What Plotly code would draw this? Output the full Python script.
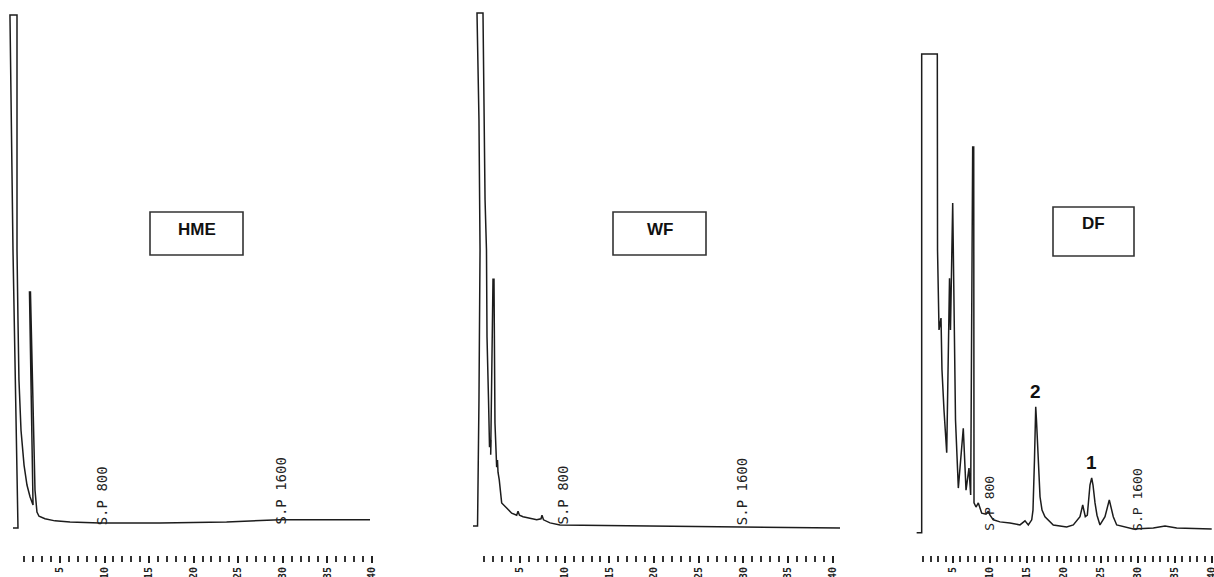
import plotly.graph_objects as go

# ---------------- data (retention time in min, detector response in relative units) -------------
hme_time = [-0.27, 0.29, -0.27, -0.61, 0.18, 0.18, 0.18, 0.29, 0.40, 0.63, 0.97, 1.30, 1.64, 1.98,
            1.58, 1.69, 1.98, 2.20, 2.42, 2.65, 3.32, 4.44, 6.13, 9.49, 16.2, 23.7, 29.7, 39.8]
hme_resp = [-0.2, -0.2, 54.1, 100.0, 100.0, 73.6, 54.1, 40.4, 28.7, 18.9, 12.1, 8.2, 5.9, 4.3,
            45.9, 45.9, 20.9, 7.2, 2.9, 2.1, 1.6, 1.2, 1.0, 0.8, 0.8, 1.0, 1.4, 1.4]

wf_time = [-0.26, 0.25, 0.41, 0.53, 0.41, 0.19, 0.86, 0.97, 1.09, 1.25, 1.31, 1.48, 1.53, 1.64,
           1.59, 1.76, 1.72, 1.98, 2.09, 2.20, 2.32, 2.39, 2.48, 2.54, 2.68, 2.82, 2.95, 3.51,
           4.07, 4.63, 4.78, 4.94, 5.34, 6.87, 7.35, 7.46, 7.63, 8.36, 9.47, 19.5, 30.7, 40.8]
wf_resp = [0.2, 0.2, 24.8, 54.1, 79.5, 100.4, 100.4, 79.5, 63.9, 54.1, 37.1, 24.8, 20.3, 18.0,
           15.6, 17.0, 14.1, 48.4, 48.4, 20.3, 15.0, 11.7, 13.1, 10.7, 9.2, 6.3, 4.7, 3.7,
           2.7, 2.3, 3.1, 2.3, 2.0, 1.4, 1.6, 2.3, 1.4, 0.8, 0.4, 0.2, 0.0, -0.2]

df_time = [0.09, 0.77, 0.77, 2.88, 2.91, 3.11, 3.38, 3.51, 3.78, 4.15, 4.53, 4.66, 4.96, 5.14,
           5.34, 5.72, 6.39, 6.76, 7.16, 7.39, 7.66, 7.80, 7.84, 8.11, 8.42, 8.88, 9.46, 9.77,
           10.0, 10.45, 11.35, 12.70, 14.05, 14.73, 15.18, 15.64, 15.81, 16.01, 16.18, 16.28,
           16.49, 16.76, 17.03, 17.43, 18.55, 20.36, 21.26, 22.16, 22.53, 22.88, 23.15, 23.51,
           23.74, 23.92, 24.19, 24.46, 24.86, 25.54, 26.12, 26.66, 27.12, 29.36, 32.07, 33.65,
           35.23, 39.96]
df_resp = [-1.1, -1.1, 92.4, 92.4, 54.1, 38.5, 40.8, 30.7, 22.9, 14.5, 48.6, 38.5, 63.3, 38.5,
           20.9, 7.6, 19.3, 7.2, 11.5, 6.25, 74.2, 74.2, 4.7, 3.9, 4.7, 2.7, 2.5, 3.1,
           2.3, 1.4, 1.0, 0.8, 0.4, 1.2, 0.4, 1.4, 3.3, 13.1, 23.5, 20.9,
           13.1, 5.9, 3.3, 2.0, 0.4, 0.0, 0.4, 2.0, 4.3, 2.0, 2.3, 8.2,
           9.6, 8.2, 4.7, 2.3, 0.4, 2.0, 5.3, 2.0, 0.4, -0.4, -0.2, 0.2,
           -0.2, -0.4]

panel_names = ["HME", "WF", "DF"]
major_ticks = [5, 10, 15, 20, 25, 30, 35, 40]
major_labels = ["5", "10", "15", "20", "25", "30", "35", "40"]
minor_ticks = [t for t in range(1, 41) if t % 5 != 0]

sp_labels = ["S.P 800", "S.P 1600"]
sp_times = [[9.7, 29.7], [9.7, 29.8], [10.0, 29.9]]
sp_base = [0.0, 0.0, -1.2]

peak_labels = ["2", "1"]
peak_times = [16.18, 23.74]
peak_resp = [23.5, 9.6]

# ---------------- layout helpers -------------
W, H = 1214, 577
M_T, M_B = 8, 22
plot_h = H - M_T - M_B


def px_x(p):
    return p / W


def px_y(p):
    return (H - M_B - p) / plot_h


x_domains = [[px_x(5), px_x(380)], [px_x(462), px_x(842)], [px_x(905), 1.0]]
x_ranges = [[-1.167, 40.92], [-1.488, 41.02], [-1.486, 40.27]]
y_range = [(527 - (H - M_B)) / 5.12, 101.37]

series = [(hme_time, hme_resp), (wf_time, wf_resp), (df_time, df_resp)]
ink = "#1c1c1c"
mono = "DejaVu Sans Mono, Liberation Mono, monospace"

fig = go.Figure()
for i, (t, r) in enumerate(series):
    suffix = "" if i == 0 else str(i + 1)
    fig.add_trace(go.Scatter(
        x=t, y=r, mode="lines", name=panel_names[i],
        line=dict(color=ink, width=1.5),
        xaxis="x" + suffix, yaxis="y" + suffix, showlegend=False, hoverinfo="skip",
    ))
    fig.layout["xaxis" + suffix] = dict(
        domain=x_domains[i], range=x_ranges[i], anchor="y" + suffix,
        showgrid=False, zeroline=False, showline=False, automargin=False,
        tickmode="array", tickvals=major_ticks,
        ticktext=["<b>%s</b>" % s for s in major_labels],
        ticks="outside", ticklen=7, tickwidth=2, tickcolor="#222",
        tickangle=-90, tickfont=dict(family=mono, size=10, color="#222"),
        ticklabeloverflow="allow",
        minor=dict(tickmode="array", tickvals=minor_ticks, ticks="outside",
                   ticklen=6, tickwidth=2, tickcolor="#333"),
    )
    fig.layout["yaxis" + suffix] = dict(
        domain=[0, 1], range=y_range, anchor="x" + suffix, visible=False,
        automargin=False,
    )
    # S.P markers
    for lab, tt in zip(sp_labels, sp_times[i]):
        fig.add_annotation(
            x=tt, y=sp_base[i], xref="x" + suffix, yref="y" + suffix,
            text=lab, textangle=-90, showarrow=False,
            xanchor="center", yanchor="bottom",
            font=dict(family=mono, size=14 if i < 2 else 13, color="#222"),
        )

# peak labels on the DF panel
for lab, tt, rr in zip(peak_labels, peak_times, peak_resp):
    fig.add_annotation(
        x=tt, y=rr, xref="x3", yref="y3", text="<b>%s</b>" % lab,
        showarrow=False, xanchor="center", yanchor="bottom", yshift=3,
        font=dict(family="Liberation Sans, Arial", size=19, color="#111"),
    )

# sample boxes
boxes = [(150, 243, 212, 255), (613, 706, 212, 255), (1053, 1134, 207, 256)]
for name, (l, rr, tp, bt) in zip(panel_names, boxes):
    fig.add_shape(type="rect", xref="paper", yref="paper",
                  x0=px_x(l), x1=px_x(rr), y0=px_y(bt), y1=px_y(tp),
                  line=dict(color="#333", width=1.6))
    fig.add_annotation(
        xref="paper", yref="paper", x=px_x((l + rr) / 2), y=px_y(tp + 17),
        text="<b>%s</b>" % name, showarrow=False, xanchor="center", yanchor="middle",
        font=dict(family="Liberation Sans, Arial", size=17, color="#111"),
    )

fig.update_layout(
    width=W, height=H,
    margin=dict(l=0, r=0, t=M_T, b=M_B, pad=0, autoexpand=False),
    paper_bgcolor="white", plot_bgcolor="white",
    showlegend=False,
)

fig.write_html(
    "out.html",
    config={"displayModeBar": False},
    post_script="document.body.style.margin='0';document.body.style.overflow='hidden';",
)
